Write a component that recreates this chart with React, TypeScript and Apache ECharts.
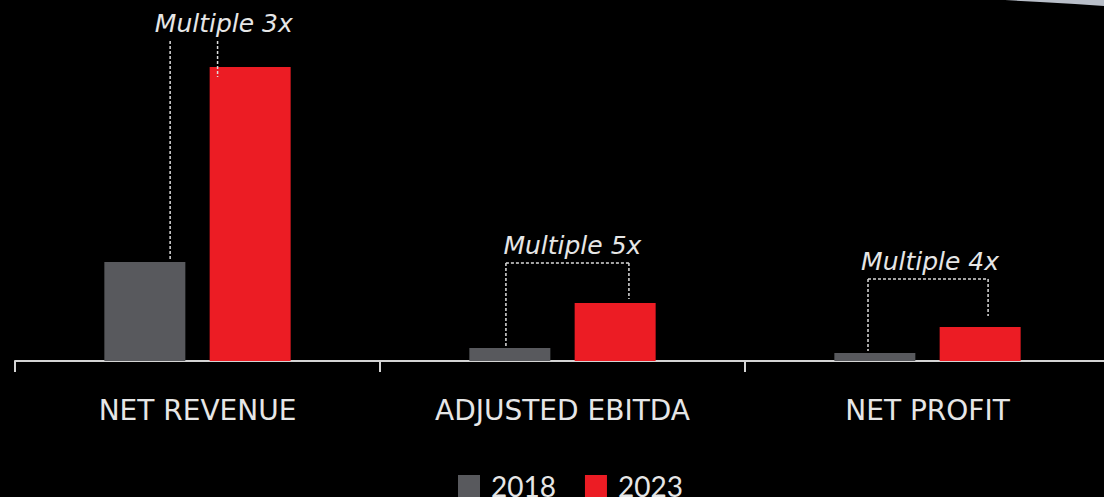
import React, { useEffect, useRef } from "react";
import * as echarts from "echarts";

const categories = ["NET REVENUE", "ADJUSTED EBITDA", "NET PROFIT"];
const values2018 = [9.9, 1.3, 0.8];
const values2023 = [29.4, 5.8, 3.4];
const multipleLabels = ["Multiple 3x", "Multiple 5x", "Multiple 4x"];
const bracketTops = [32.0, 9.8, 8.2];

// annotation geometry (fractions of the category band / pixel gaps)
const annotationStyle = [
  { leftDx: -0.075, rightDx: 0.055, leftGap: 2, rightGap: -10, textDx: 0.072, bracket: false },
  { leftDx: -0.155, rightDx: 0.182, leftGap: 2, rightGap: 4, textDx: 0.027, bracket: true },
  { leftDx: -0.163, rightDx: 0.166, leftGap: 2, rightGap: 11, textDx: 0.007, bracket: true },
];

const GRAY = "#58595d";
const RED = "#ec1c24";
const LIGHT = "#e6e6e6";

export default function App() {
  const ref = useRef<HTMLDivElement>(null);
  useEffect(() => {
    document.body.style.margin = "0";
    const chart = echarts.init(ref.current!, null, { renderer: "svg" });
    const annData = categories.map((_, i) => [i, values2018[i], values2023[i], bracketTops[i]]);
    chart.setOption({
      animation: false,
      backgroundColor: "#000000",
      grid: { left: 15, width: 1095, top: 61, bottom: 136, containLabel: false, outerBoundsMode: "none" },
      legend: {
        data: ["2018", "2023"],
        top: 472,
        left: 458,
        padding: 0,
        icon: "rect",
        itemWidth: 22,
        itemHeight: 22,
        itemGap: 29,
        textStyle: { color: LIGHT, fontSize: 28, fontFamily: "Lato", padding: [0, 0, 6, 6] },
      },
      xAxis: {
        type: "category",
        data: categories,
        axisLine: { lineStyle: { color: "#d4d4d4", width: 2 } },
        axisTick: { show: true, length: 11, lineStyle: { color: "#d4d4d4", width: 2 } },
        axisLabel: { color: LIGHT, fontSize: 28, fontFamily: "DejaVu Sans", margin: 35 },
      },
      yAxis: { type: "value", min: 0, max: 30, show: false },
      graphic: [
        {
          type: "polygon",
          shape: { points: [[1005, 0], [1040, 2], [1075, 4], [1104, 6], [1104, 0]] },
          style: { fill: "#b9bfc9" },
        },
      ],
      series: [
        { name: "2018", type: "bar", data: values2018, barWidth: 81, barGap: "30%", itemStyle: { color: GRAY } },
        { name: "2023", type: "bar", data: values2023, barWidth: 81, itemStyle: { color: RED } },
        {
          type: "custom",
          data: annData,
          encode: { x: 0, y: 3 },
          clip: false,
          silent: true,
          z: 5,
          renderItem: (params: any, api: any) => {
            const i = params.dataIndex;
            const s = annotationStyle[i];
            const cat = api.value(0);
            const cx = api.coord([cat, 0])[0];
            const band = api.size([1, 0])[0];
            const yTop = api.coord([cat, api.value(3)])[1];
            const yL = api.coord([cat, api.value(1)])[1] - s.leftGap;
            const yR = api.coord([cat, api.value(2)])[1] - s.rightGap;
            const xl = cx + s.leftDx * band;
            const xr = cx + s.rightDx * band;
            const ls = { stroke: "#dcdcdc", lineWidth: 1.5, lineDash: [3, 2] };
            const children: any[] = [
              { type: "line", shape: { x1: xl, y1: yTop, x2: xl, y2: yL }, style: ls },
              { type: "line", shape: { x1: xr, y1: yTop, x2: xr, y2: yR }, style: ls },
            ];
            if (s.bracket) {
              children.push({ type: "line", shape: { x1: xl, y1: yTop, x2: xr, y2: yTop }, style: ls });
            }
            children.push({
              type: "text",
              x: cx + s.textDx * band,
              y: yTop - 18,
              style: {
                text: multipleLabels[i],
                fill: LIGHT,
                fontSize: 25,
                fontStyle: "italic",
                fontFamily: "DejaVu Sans",
                align: "center",
                verticalAlign: "middle",
              },
            });
            return { type: "group", children };
          },
        },
      ],
    });
    return () => chart.dispose();
  }, []);
  return <div ref={ref} style={{ width: 1104, height: 497 }} />;
}
